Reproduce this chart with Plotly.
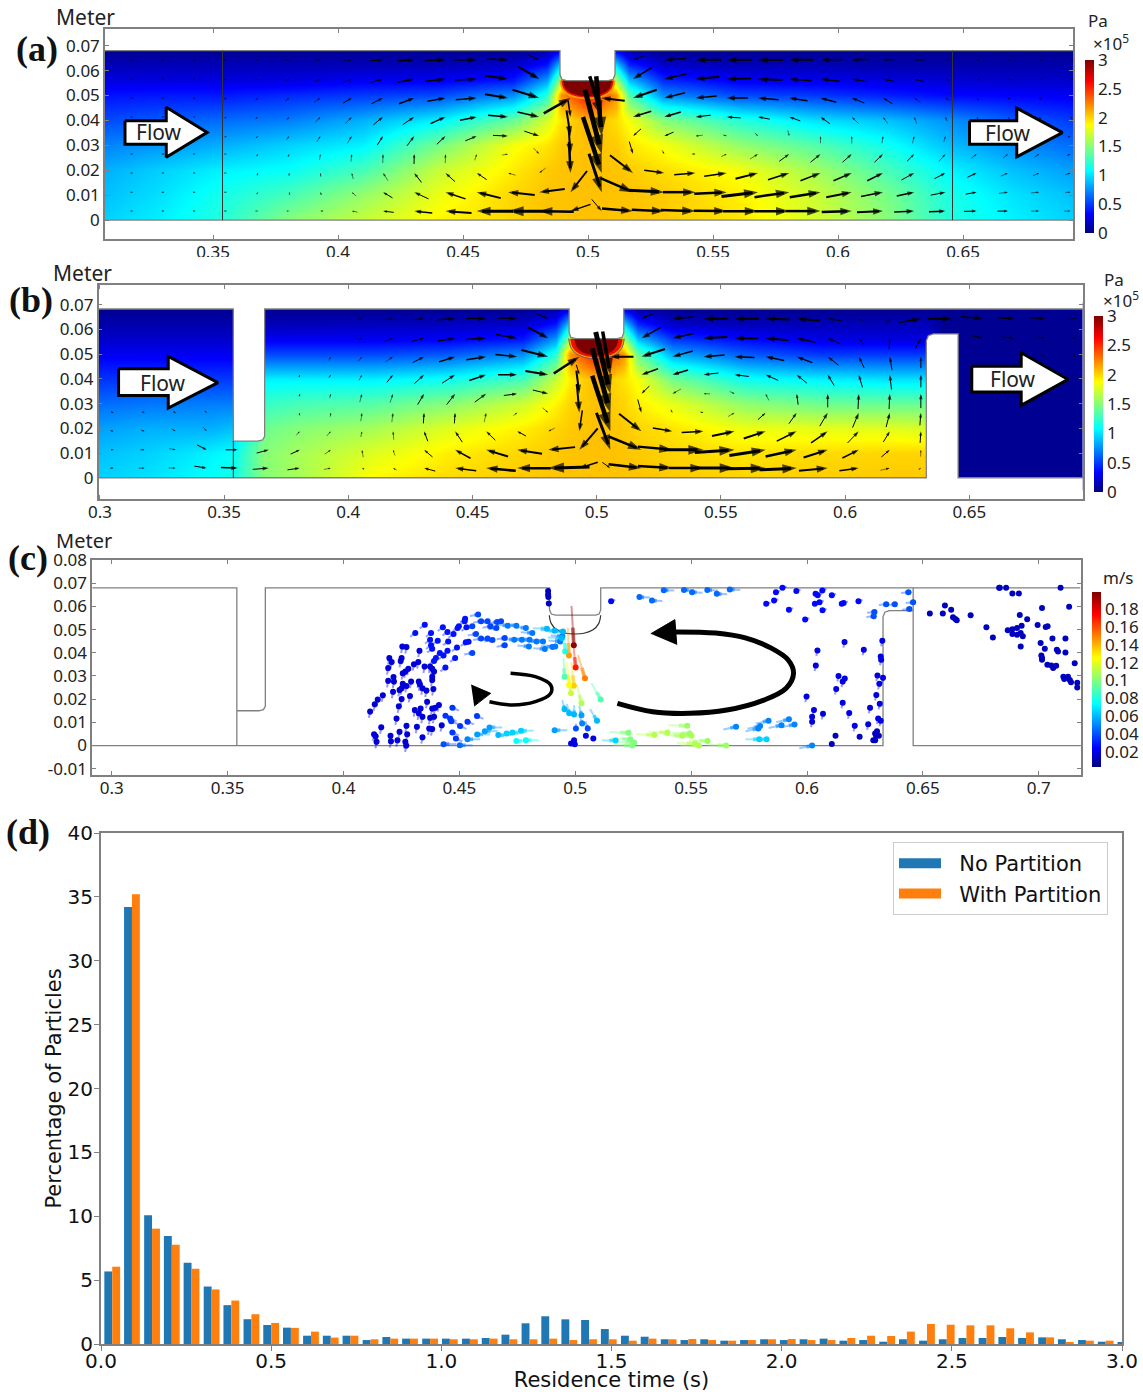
import plotly.graph_objects as go
from plotly.colors import sample_colorscale
import math

W, H = 1143, 1392
GREY = "#808080"
COMSOL = "Noto Sans"
MPL = "DejaVu Sans"
RAINBOW = [[0,"rgb(0,0,127)"],[.11,"rgb(0,0,255)"],[.36,"rgb(0,255,255)"],[.625,"rgb(255,255,0)"],[.875,"rgb(255,0,0)"],[1,"rgb(127,0,0)"]]

# ---------- panel (a): pressure field, 1e5 Pa ----------
A_P_X = [.3068,.33,.354,.38,.41,.44,.47,.4835,.489,.5,.511,.5165,.53,.56,.59,.62,.646,.67,.694]
A_P_Y = [0,.01,.02,.03,.04,.05,.056,.062,.068]
A_P_Z = [
 [.95,1.05,1.2,1.5,1.7,1.9,2.0,2.05,2.05,2.06,2.05,2.05,2.03,1.95,1.75,1.5,1.17,1.05,.95],
 [.9,1.0,1.15,1.3,1.55,1.82,2.0,2.05,2.05,2.06,2.05,2.05,2.03,1.92,1.72,1.45,1.15,1.0,.9],
 [.85,.95,1.05,1.1,1.3,1.7,1.93,2.03,2.05,2.06,2.05,2.03,1.97,1.85,1.6,1.3,1.05,.9,.8],
 [.72,.78,.85,.95,1.05,1.45,1.85,1.95,2.03,2.06,2.03,1.95,1.85,1.55,1.35,1.12,.88,.75,.65],
 [.55,.6,.65,.7,.85,1.05,1.4,1.75,1.95,2.1,1.97,1.85,1.5,1.2,1.0,.9,.75,.6,.5],
 [.38,.4,.4,.45,.5,.55,.75,1.2,2.2,2.6,2.2,1.35,.75,.55,.5,.42,.35,.33,.3],
 [.25,.25,.25,.25,.3,.3,.4,.8,1.6,2.5,1.6,.9,.45,.3,.28,.25,.22,.2,.2],
 [.15,.15,.15,.15,.15,.15,.2,.4,1.0,1.2,1.0,.45,.2,.15,.15,.12,.12,.12,.12],
 [.05,.05,.05,.05,.05,.05,.05,.1,.3,.3,.3,.1,.05,.05,.05,.05,.05,.05,.05],
]

# arrow tips on a regular mesh; U, V = arrow extent in millimetres
A_TIP_X = [.318,.3305,.343,.3555,.368,.3805,.393,.4055,.418,.4305,.443,.4555,.468,.4805,.493,.5055,
           .518,.5305,.543,.5555,.568,.5805,.593,.6055,.618,.6305,.643,.6555,.668,.6805,.693]
A_TIP_Y = [.0643,.0566,.049,.0414,.0337,.0265,.0189,.0112,.0036]
A_U = [
 [.3,.3,.4,.5,.8,1.5,2.1,3.5,5.4,6.6,8.1,9,8.4,4.6,0,0,-4.7,-8.8,-10.2,-10,-10,-9.5,-8.6,-7,-5.1,-4,-2,-1.2,-.8,-.6,-.5],
 [.3,.4,.5,.7,1,1.5,2.6,3.5,5,6.6,8.1,8.7,9.2,8.4,0,0,-7.6,-8.8,-9.5,-9.7,-9.7,-8.9,-7.8,-6.4,-5.3,-4,-1.8,-1.8,-1,-.6,-.5],
 [.3,.3,.5,.6,1,1.7,2.6,3.4,4.6,6.1,7.2,8.4,9.2,10.7,10.7,-9.2,-9.5,-8.3,-8.5,-8.5,-8.2,-7.3,-6.3,-5,-3.8,-2.5,-1.8,-1,-.5,-.5,-.5],
 [.3,.3,.3,.5,1,1.2,2,2.6,3.8,4.6,6,6.7,8,8.7,1,4.8,-7.3,-6.6,-6.1,-5.6,-4.8,-4.4,-3.7,-2.8,-1.9,-1,-.6,-.3,-.3,-.3,-.3],
 [.2,.3,.3,.4,.8,1.2,1.5,1.8,2.3,2.9,3.5,4.6,6,6,1.6,2.2,-3.2,-3.7,-2.9,1.5,1.3,.6,0,0,.4,.7,.7,1,1,1,1],
 [.4,.4,.3,.3,.4,.5,.4,.3,.1,.1,.1,.8,2.3,2.3,.8,6.7,1.5,.9,1.5,2.2,3.2,4,4,3.7,3.4,2.9,2.6,2.2,1.9,1.9,1.5],
 [.5,.5,.5,.3,.2,.1,-.1,-.6,-2,-2.9,-3.8,-4,-3,-2.6,.6,7.5,9.2,8,8.5,9,9,8.5,8,7.3,6.3,5.1,4.4,3.7,2.9,2.5,2],
 [.6,.7,.7,.5,.2,-.1,-.3,-1.8,-3.8,-5.7,-8,-9.6,-10.7,-10.2,-6.6,5.1,13,14.3,13,13,14.6,13.9,12.3,10.2,8.8,7,5.9,4.4,3.6,3.2,2],
 [.6,.7,.8,.6,.3,.2,-.8,-2.3,-4.3,-7.2,-10.4,-14.5,-16.4,-13.8,-8,4,12.4,13,13.9,13.2,13.9,13.9,13.9,12,10.4,8,6.6,5.1,4.2,3.2,2.5],
]
A_V = [
 [0,0,0,0,0,.1,.1,.3,.4,.3,.2,0,-.4,-2,0,0,-1.8,-.6,-.1,0,0,-.1,-.2,-.2,-.1,0,0,0,0,0,0],
 [0,0,0,.1,.2,.5,.9,1.3,1.3,1.3,.9,.4,-1.3,-5,0,0,-4.7,-2,-.9,-.3,.4,.7,.9,1.1,1.1,1.1,.7,.4,.2,.1,0],
 [0,0,.1,.3,.9,1.3,1.7,2,2.3,2.3,1.3,.7,-1.5,-3.3,6.2,1.1,-3.3,-2.1,-.8,0,.7,1.1,1.7,2,2.3,1.7,1.1,1,.3,.3,.3],
 [0,0,0,.3,.8,1.3,2,2.7,3.1,3.1,2.7,1.3,-.7,-2,-6.7,-16.3,-2.3,-2,-.7,.4,.9,1.6,2.7,2.7,2.7,2.7,1.7,.5,.4,.4,.3],
 [0,0,0,.2,.8,1.6,2.3,2.9,3.6,3.9,3.3,1.9,-.3,-2,-10.3,-24,-2.9,-1.6,-.4,-.5,-1.3,-2.3,2.9,2.9,2.9,2.9,2.3,1,1,.8,.5],
 [0,0,0,0,.6,1.2,2.3,3,3.6,4,3.6,2.5,.4,-2.4,-11,-25.8,-5,-1.5,0,1,2,2.9,3.3,3.3,3.3,2.9,2.9,1.7,1.6,1.2,.7],
 [0,0,0,0,.5,.9,1.5,2.4,3.1,3.8,3.5,2.7,.9,-2,-12.5,-22.5,-7.1,-1.1,.7,1.3,2.3,2.7,3.1,3.1,3.1,2.8,2.3,1.7,1.3,1.1,.7],
 [0,0,0,0,.3,.7,1,1.6,2.3,2.7,2.7,2.4,1.1,-1.3,-8.5,-15.4,-5.6,-.8,0,.6,1.7,2,2,2,1.7,1.5,1.2,.8,.5,.3,.1],
 [0,0,0,0,0,0,0,.4,.5,.8,.8,.1,.1,.3,-2.7,-4.7,-1,-.5,-.4,-.1,.1,.1,0,.4,.5,.4,.3,.1,0,0,0],
]

# ---------- panel (b) ----------
B_P_X = [.2995,.32,.345,.354,.366,.38,.41,.44,.47,.4835,.489,.5,.511,.5165,.53,.56,.59,.62,.633,.64,.6955]
B_P_Y = [0,.01,.02,.03,.04,.05,.056,.062,.068]
B_P_Z = [
 [.95,1.0,1.1,1.15,1.5,1.6,1.88,1.98,2.03,2.05,2.05,2.05,2.05,2.05,2.03,2.0,2.02,2.03,2.03,.05,.05],
 [.9,.95,1.05,1.1,1.5,1.6,1.78,1.92,2.0,2.03,2.05,2.06,2.05,2.03,2.0,1.95,1.98,2.0,2.0,.05,.05],
 [.8,.85,.85,.9,1.42,1.5,1.6,1.78,1.92,2.0,2.03,2.06,2.03,2.0,1.95,1.82,1.8,1.78,1.75,.05,.05],
 [.65,.68,.7,.7,1.25,1.3,1.35,1.5,1.72,1.9,2.0,2.06,2.0,1.92,1.8,1.52,1.42,1.4,1.4,.05,.05],
 [.48,.5,.5,.5,1.05,1.05,1.05,1.12,1.3,1.7,1.92,2.1,1.95,1.85,1.45,1.12,1.05,1.0,1.0,.05,.05],
 [.3,.3,.3,.3,.55,.55,.55,.6,.75,1.2,2.2,2.6,2.2,1.4,.85,.6,.5,.5,.5,.05,.05],
 [.2,.2,.2,.2,.3,.3,.3,.32,.4,.8,1.6,2.5,1.6,.9,.5,.35,.27,.25,.25,.05,.05],
 [.12,.12,.12,.12,.15,.15,.17,.17,.2,.4,1.0,1.2,1.0,.45,.2,.15,.15,.15,.15,.05,.05],
 [.05,.05,.05,.05,.05,.05,.05,.05,.05,.1,.3,.3,.3,.1,.05,.05,.05,.05,.05,.05,.05],
]
B_TIP_X = [.3055] + A_TIP_X
B_TIP_Y = [.0644,.0565,.049,.0417,.034,.0263,.0188,.0113,.0039]
B_U = [
 [0,0,0,0,0,0,0,0,1.5,3.4,4.9,6.9,8,7.7,4.9,0,0,-4.7,-8.5,-10,-9.8,-9.5,-9.2,-5.6,-1.9,1.7,8.8,9.8,8.8,6.6,5.9,2.6],
 [0,0,0,0,0,0,0,0,1.7,3.4,4.9,6.9,8.3,8.5,8.2,0,0,-7.8,-8.5,-9.5,-9.5,-9.2,-7.5,-5.1,-2.3,.3,2.2,0,4.4,5.1,3.7,2],
 [0,0,0,0,0,0,0,.9,1.5,3.1,4.6,6.5,8,8.8,10.8,10.3,-9.3,-9.5,-8.2,-8.5,-8,-7.5,-6.3,-4.4,-2.2,-.9,0,0,0,0,2.2,1],
 [0,0,0,0,0,0,.2,.9,1.2,2.5,3.9,5.2,6.8,7.7,9.2,1.2,3.1,-6.7,-6.3,-6,-5.7,-5.1,-4.1,-2.6,-1.5,-.7,0,0,0,0,0,0],
 [0,0,0,0,0,0,.2,.5,.9,1.2,2.6,3.4,4.6,5.4,6.2,1.2,5.9,-3.2,-3.4,-2.6,1.9,-1.3,-.6,0,.3,.3,0,0,0,0,0,0],
 [1,1,.8,.3,0,0,.2,.3,.5,.5,.3,.3,.8,1.5,2.3,1,7.3,1.5,.7,1.3,2.6,3.1,3.1,3.2,2.5,1.5,.4,0,0,0,0,0],
 [1.3,1.5,1.7,1.5,0,0,1.5,1.7,.5,-.3,-1.5,-2.9,-3.7,-3.5,-2.6,-1.2,7.3,9,7.9,8.8,9.1,8.8,8,6.7,4.5,2.6,.3,0,0,0,0,0],
 [1,1.8,2.6,3.9,4.9,4.9,3.7,2.5,-.5,-.8,-3.4,-6.2,-8.8,-10,-10.8,-7.4,5.6,13.2,13.9,16,16,14.6,12.5,9.7,6.6,3.4,.1,0,0,0,0,0],
 [1.5,2.4,2.9,5,6.8,6.5,5,2.8,-.8,-1.5,-4.5,-8.5,-11.9,-13.5,-16.6,-7.4,3.2,13.2,13.9,13.9,15.7,15.7,15,11.6,7.8,3.8,.3,0,0,0,0,0],
]
B_V = [
 [0,0,0,0,0,0,0,0,.1,.3,.4,.4,-.1,-.3,-2,0,0,-2,-.7,0,0,.3,.7,.9,1,1.9,1.6,0,-.8,-.4,-.3,-.2],
 [0,0,0,0,0,0,0,0,.7,1.3,1.3,1.1,.5,-1.5,-4.4,0,0,-4.4,-1.9,-.5,0,.8,1.7,2.3,2.9,4.5,4.3,0,-1,-.5,-.5,-.2],
 [0,0,0,0,0,0,0,1.5,1.9,2.1,2.4,2.1,1.2,-.9,-2.7,6.8,0,-3.1,-2.3,-.7,.3,1.5,2.4,3.5,4.6,5.5,4.6,0,0,0,-1,-.3],
 [0,0,0,0,0,0,.6,1.3,2.3,3.1,3.6,3.4,2.3,0,-1.5,-4,-17.5,-2.4,-1.9,-.7,.7,2.3,3.4,4.4,5.1,6,5.1,0,0,0,0,0],
 [0,0,0,0,0,0,1,1.7,3.4,3.6,4.4,4.4,3.4,.7,-1.5,-9.4,-25,-3.1,-1.9,0,-.9,2.7,4.4,5.5,6.2,6.2,5.8,0,0,0,0,0],
 [-.3,-.4,-.4,-.3,0,0,1,1.6,3.4,3.8,4.3,4.3,3.8,1.1,-2,-11.7,-26,-5.4,-1.3,-.3,1.5,2.8,4.4,5.4,6,5.8,5.1,0,0,0,0,0],
 [-.3,-.5,-1,-1.7,0,0,1.6,1.9,2.3,3.4,4,4.4,3.6,1.9,-1.3,-8.5,-22.5,-7.1,-1.3,.5,1.9,2.9,4,4.7,4.7,4.3,4.7,0,0,0,0,0],
 [0,0,-.5,-2,0,1.3,1.7,1.7,3,2.3,2.9,3.4,2.7,1.6,-1.1,-8.7,-15,-5.4,-1.3,0,1.1,2.3,2.7,3.1,3.3,2.9,2.7,0,0,0,0,0],
 [0,0,-.1,-.8,-.3,.5,.7,.5,.4,.8,1.2,1.1,1.1,.1,-.5,-2.4,-2.3,-1.6,-.9,0,0,.3,.7,1.1,1.1,.9,.2,0,0,0,0,0],
]

# ---------- panel (c): particles; each group = x, y, speed (m/s), trail (dx, dy in m) ----------
C_LEFT_X = [.4115,.4135,.4148,.417,.4132,.4139,.4143,.4163,.4203,.4205,.4233,.4267,.4271,.4242,.4275,.4229,.4272,.4341,.4317,.437,.4383,
            .4239,.4251,.4242,.4256,.4214,.4218,.4193,.4216,.4193,.4198,.4208,.4251,.4247,.4254,.4272,.4256,.4267,.428,.4304,.4323,.4328,
            .4292,.4325,.433,.4272,.4287,.4251,.4341,.4358,.4388,.4383,.4383,.4361,.4333,.4308,.4325,.4341,.4374,.4391,.4383,.4396,.4412,
            .435,.4374,.4383,.4391,.4424]
C_LEFT_Y = [.0147,.0178,.0198,.0217,.0049,.004,.0016,.0079,.0042,.0019,.0023,.0016,0,.0059,.0049,.0117,.0085,.0036,.0081,.0074,.0071,
            .0169,.0201,.024,.0266,.0232,.0276,.0279,.0296,.0334,.0377,.036,.0377,.0365,.0427,.0425,.0312,.0319,.0331,.0351,.036,.0409,
            .0276,.0276,.0264,.0257,.0214,.0247,.0247,.0237,.0244,.0283,.0297,.0189,.016,.0153,.0139,.0124,.012,.0124,.016,.0163,.0175,
            .0341,.0341,.0331,.0319,.0088]
C_LEFT_SPEED = .018
C_LEFT_TRAIL = (-.0005, -.0028)

C_ARC_X = [.431,.4351,.4378,.4374,.4378,.4383,.4407,.4452,.4449,.4475,.4493,.4429,.4523,.4525,.4498,.4531,.4528,.454,.449,.4449,.4416,.4432,.4399,.4391,.4482,.444]
C_ARC_Y = [.0485,.0521,.0485,.0456,.0432,.0417,.0452,.0449,.049,.0481,.0507,.051,.0536,.0547,.0514,.051,.0445,.0448,.0423,.0409,.0399,.0388,.0377,.0365,.0377,.0336]
C_ARC_SPEED = .028
C_ARC_TRAIL = (-.0022, -.0016)

C_TOP_X = [.4581,.4556,.4594,.4622,.4663,.468,.4635,.466,.4572,.4594,.4622,.4643,.4556,.4696,.4696]
C_TOP_Y = [.0565,.0514,.0536,.0536,.0533,.0536,.0514,.0507,.0481,.0461,.0461,.0455,.0399,.0464,.0432]
C_TOP_SPEED = .038
C_TOP_TRAIL = (-.0035, -.0006)

C_TOP2_X = [.4709,.4746,.4787,.4815,.4737,.477,.4803,.48,.4833,.4861,.4869,.4902,.4914,.4935,.4944]
C_TOP2_Y = [.0517,.0517,.0507,.0485,.0456,.0456,.0456,.0427,.0449,.0449,.0416,.0425,.0427,.0449,.0471]
C_TOP2_SPEED = .048
C_TOP2_TRAIL = (-.005, .0004)

C_TIP_X = [.4878,.4911,.4942,.4947]
C_TIP_Y = [.0504,.0495,.0464,.0492]
C_TIP_SPEED = .06
C_TIP_TRAIL = (-.006, .0002)

C_NOTCH_X = [.4883,.4883,.4884,.4886]
C_NOTCH_Y = [.0666,.0651,.064,.0612]
C_NOTCH_SPEED = .014

C_LBOT_X = [.447,.444,.446,.4465,.4503,.4535,.4576,.447,.4485]
C_LBOT_Y = [.0163,.0129,.0117,.0105,.0084,.0103,.0127,.0056,.003]
C_LBOT_SPEED = .035
C_LBOT_TRAIL = (.0028, -.0012)

C_LB2_X = [.4432,.4502,.4535,.4577,.461,.463,.4668,.4704,.4729,.4766,.4787,.4746,.4911]
C_LB2_Y = [.0006,.0001,.0027,.0048,.0062,.0078,.0045,.0052,.0056,.0064,.0023,.002,.0066]
C_LB2_SPEED = [.04,.045,.05,.055,.055,.055,.06,.065,.065,.065,.075,.075,.055]
C_LB2_TRAIL = (.0055, 0)

C_MID_X = [.4994,.5002,.5042,.4973,.4994,.4974,.4957,.4954,.4982,.5027,.511,.5094,.4954,.4974,.4995,.5027,.503,.5054,.5003,.5046,.5078,.4995,.4982,.4998]
C_MID_Y = [.0432,.0336,.029,.0388,.0258,.0261,.0406,.0297,.0225,.0182,.0199,.0107,.0156,.0139,.0134,.0131,.0095,.0074,.0074,.0042,.003,.0023,.0009,.0006]
C_MID_SPEED = [.195,.17,.15,.145,.135,.125,.08,.09,.115,.11,.09,.06,.06,.06,.06,.055,.05,.04,.04,.02,.02,.02,.02,.02]
C_MID_DX = [-.001,-.001,-.003,-.0005,-.001,-.001,-.0005,-.0005,-.001,-.002,-.004,-.003,-.001,-.001,0,-.001,-.001,-.001,0,0,0,0,0,0]
C_MID_DY = [.017,.01,.01,.012,.01,.01,.008,.008,.008,.008,.007,.005,.004,.004,.004,.004,.003,.003,.002,.001,.001,.001,.001,.001]

C_RSIDE_X = [.6162,.6045,.6038,.6245,.6325,.6318,.632,.6304,.6328,.6312,.6299,.6314,.6272,.6307,.6318,.6264,.6136,.6163,.6154,.6126,.6154,.6182,.6206,.6069,.603,.6022,.6022,.5998]
C_RSIDE_Y = [.0446,.041,.0345,.0413,.0452,.0384,.037,.0302,.0292,.0266,.0218,.018,.0163,.0117,.0107,.0092,.03,.0289,.0276,.0244,.0185,.014,.0085,.0137,.0153,.0124,.0103,.0211]
C_RSIDE_SPEED = .02
C_RSIDE_TRAIL = (-.0005, -.0024)

C_DARK_X = [.6227,.6123,.6107,.6302,.6294,.631,.6298,.6286,.6294,.653,.6586,.6595,.6622,.663,.664,.6646,.6706,.6774,.6802,.6829,.6832,.6859,.6886,.6914,.7094,.7131,.7014,.6918,.695,.6926,.6906,.6886,.6866,.6886,.6906,.6922,.6931,.6922,.6995,.703,.7038,.7008,.7026,.7059,.7115,.7078,.7083,.7115,.7011,.7014,.7014,.7037,.7054,.7075,.7062,.7155,.7106,.711,.7126,.7134,.7139,.7166,.7166]
C_DARK_Y = [.0038,.0042,.0007,.0062,.0052,.0042,.0042,.0023,.0023,.0569,.0569,.0604,.0585,.0553,.0546,.054,.0562,.051,.0466,.068,.068,.068,.0656,.0656,.068,.0598,.0593,.0563,.0544,.0517,.0507,.0501,.0497,.0481,.0478,.0485,.0471,.0427,.052,.0511,.0514,.0442,.0417,.0461,.0462,.0413,.0406,.0401,.0388,.0377,.037,.0348,.0345,.0344,.0334,.0355,.0297,.0287,.0297,.0283,.0273,.0271,.025]
C_DARK_SPEED = .014

C_RTOP_X = [.5382,.5469,.5504,.557,.5611,.5667,.5277,.5331]
C_RTOP_Y = [.067,.0671,.0661,.0671,.0654,.0673,.064,.0625]
C_RTOP_SPEED = .045
C_RTOP_TRAIL = (.0045, -.0002)

C_RTOP2_X = [.5155,.5866,.5894,.5954,.5858,.5824,.5922,.5992,.6037,.6046,.6066,.6107,.6054,.6034,.6067,.615,.6158,.6222]
C_RTOP2_Y = [.0622,.0661,.068,.0666,.0625,.0611,.0586,.0543,.0654,.0648,.0669,.0648,.0618,.0611,.0583,.0611,.0615,.0622]
C_RTOP2_SPEED = .026
C_RTOP2_TRAIL = (.0018, .0006)

C_BAFFLE_X = [.6342,.6379,.6438,.6458,.6442,.6291,.6288]
C_BAFFLE_Y = [.0609,.0609,.0661,.0618,.0589,.0576,.0557]
C_BAFFLE_SPEED = .04
C_BAFFLE_TRAIL = (-.0032, -.0003)

C_RBOT_X = [.5834,.5922,.5946,.589,.5798,.579,.5694,.6022]
C_RBOT_Y = [.0107,.0113,.0091,.0088,.0084,.0074,.0081,0]
C_RBOT_SPEED = .05
C_RBOT_TRAIL = (-.0055, -.0012)

C_GREEN_X = [.5483,.5398,.5342,.5494,.5462,.5502,.5571,.5518,.5534,.5651,.523,.5238,.5254,.5246]
C_GREEN_Y = [.0085,.0056,.0046,.0052,.0042,.0042,.002,.0009,0,0,.0055,.0027,.0013,0]
C_GREEN_SPEED = [.105,.11,.11,.105,.108,.108,.105,.11,.11,.105,.1,.1,.1,.1]
C_GREEN_TRAIL = (-.008, .0003)

C_CYAN_X = [.5174,.5794,.5826]
C_CYAN_Y = [.0022,.0027,.0027]
C_CYAN_SPEED = .065
C_CYAN_TRAIL = (-.006, 0)

# ---------- panel (d): residence time histogram ----------
D_BINS = [.033,.091,.150,.208,.266,.325,.383,.442,.500,.558,.617,.675,.733,.792,.850,.908,.967,1.025,1.084,1.142,
          1.200,1.259,1.317,1.376,1.434,1.492,1.551,1.609,1.668,1.726,1.784,1.843,1.901,1.960,2.018,2.076,2.135,2.193,
          2.251,2.310,2.368,2.427,2.485,2.543,2.602,2.660,2.718,2.777,2.835,2.894,2.952,3.010]
D_NO_PARTITION = [5.68,34.2,10.08,8.45,6.36,4.5,3.04,1.94,1.49,1.28,.65,.65,.65,.31,.55,.42,.42,.42,.42,.47,
                  .73,1.62,2.17,1.93,1.88,1.17,.65,.57,.37,.31,.37,.26,.31,.37,.31,.37,.42,.26,.31,.18,.37,.26,.37,.47,.47,.55,.47,.52,.37,.31,.18,.1]
D_WITH_PARTITION = [6.05,35.2,9.03,7.77,5.89,4.27,3.4,2.33,1.65,1.26,.97,.5,.65,.37,.42,.42,.42,.37,.37,.42,
                    .37,.37,.42,.31,.37,.37,.26,.42,.37,.39,.31,.26,.31,.37,.39,.31,.31,.47,.65,.63,.97,1.57,1.51,1.46,1.46,1.23,.91,.52,.16,.26,.26,0]

fig = go.Figure()

def paper_x(px): return px / W
def paper_y(py): return 1 - py / H

def axis(dom_x, dom_y, rng_x, rng_y, tx, ty, name):
    common = dict(showgrid=False, zeroline=False, showline=True, linecolor=GREY, linewidth=1.5, mirror="allticks",
                  ticks="inside", ticklen=4, tickcolor=GREY, tickfont=dict(family=COMSOL, size=17, color="#222"), automargin=False)
    xa = dict(domain=[paper_x(dom_x[0]), paper_x(dom_x[1])], range=rng_x, tickvals=tx, ticktext=[f"{v:g}" for v in tx],
              anchor="y" + name, ticklabelstandoff=-3, **common)
    ya = dict(domain=[paper_y(dom_y[1]), paper_y(dom_y[0])], range=rng_y, tickvals=ty, ticktext=[f"{v:g}" for v in ty],
              anchor="x" + name, **common)
    fig.update_layout({"xaxis" + name: xa, "yaxis" + name: ya})

def poly(x, y, ax, fill="white", line=None, width=0, shape="linear", close=True):
    fig.add_trace(go.Scatter(x=x, y=y, xaxis="x" + ax, yaxis="y" + ax, mode="lines", hoverinfo="skip", showlegend=False,
                             fill="toself" if close else None, fillcolor=fill if close else None,
                             line=dict(color=line or "rgba(0,0,0,0)", width=width, shape=shape)))

LOBE_FX = [-1,-.92,-.7,-.35,0,.35,.7,.92,1]
LOBE_FY = [0,.45,.78,.96,1,.96,.78,.45,0]
def lobe(cx, hx, top, bot, ax, fill, line=None, width=0):
    poly([cx + f * hx for f in LOBE_FX], [top - f * (top - bot) for f in LOBE_FY], ax, fill, line, width, "spline")

def arrows(tx, ty, U, V, ax, sx, sy):
    groups, hx, hy, hs = {}, [], [], []
    for j, y in enumerate(ty):
        for i, x in enumerate(tx):
            u, v = U[j][i], V[j][i]
            if u == 0 and v == 0:
                continue
            L = math.hypot(u * sx, v * sy)
            w = max(.5, round(min(L / 13, 5) * 2) / 2)
            x0, y0 = x - u / 1000, y - v / 1000
            g = groups.setdefault(w, [[], []])
            g[0].extend([x0, x0 + .85 * u / 1000, None])
            g[1].extend([y0, y0 + .85 * v / 1000, None])
            hx += [x0, x, None]; hy += [y0, y, None]; hs += [0, min(max(L * .4, 2.5), 20), 0]
    for w, (gx, gy) in sorted(groups.items()):
        fig.add_trace(go.Scatter(x=gx, y=gy, xaxis="x" + ax, yaxis="y" + ax, mode="lines", hoverinfo="skip", showlegend=False,
                                 line=dict(color="black", width=w)))
    fig.add_trace(go.Scatter(x=hx, y=hy, xaxis="x" + ax, yaxis="y" + ax, mode="markers", hoverinfo="skip", showlegend=False,
                             marker=dict(symbol="arrow", size=hs, angleref="previous", color="black", line=dict(width=0))))

def flow(xs, ys, tx, ty, ax):
    poly(xs, ys, ax, "white", "black", 3)
    fig.add_annotation(x=tx, y=ty, xref="x" + ax, yref="y" + ax, text="Flow", showarrow=False, font=dict(family=COMSOL, size=21, color="#222"))

def cbar(top, bottom, left, width, vals):
    return dict(x=paper_x(left), xanchor="left", y=paper_y(top), yanchor="top", len=bottom - top, lenmode="pixels",
                thickness=width, thicknessmode="pixels", xpad=0, ypad=0, outlinewidth=0, ticks="",
                tickvals=vals, ticktext=[f"{v:g}" for v in vals], tickfont=dict(family=COMSOL, size=17, color="#222"))

NOTCH_FX = [-.011,-.011,-.0103,-.0083,.0083,.0103,.011,.011]
P_TICKS = [0,.5,1,1.5,2,2.5,3]
Y_TICKS = [0,.01,.02,.03,.04,.05,.06,.07]

# ---------- (a) ----------
A_RX, A_RY = [.3068,.694], [-.0076,.0767]
axis([105,1073],[29,239],A_RX,A_RY,[.35,.4,.45,.5,.55,.6,.65],Y_TICKS,"")
fig.add_trace(go.Heatmap(x=A_P_X,y=A_P_Y,z=A_P_Z,zmin=0,zmax=3,colorscale=RAINBOW,zsmooth="best",hoverinfo="skip",
                         colorbar=cbar(60,232.7,1084.6,8.5,P_TICKS)))
lobe(.4998,.0112,.056,.0485,"","#ff9a00"); lobe(.4998,.0105,.056,.0492,"","#e81000"); lobe(.4998,.0098,.056,.0498,"","#7f0000")
NA = .4998
na_x = [NA + f for f in NOTCH_FX]; na_y = [.068,.0585,.0565,.056,.056,.0565,.0585,.068]
poly(na_x, [.0695]+na_y[1:-1]+[.0695], "")
poly([A_RX[0],A_RX[1],A_RX[1],A_RX[0]],[.068,.068,A_RY[1],A_RY[1]],"")
poly([A_RX[0],A_RX[1],A_RX[1],A_RX[0]],[0,0,A_RY[0],A_RY[0]],"")
poly([A_RX[0]]+na_x+[A_RX[1]],[.068]+na_y+[.068],"",line=GREY,width=1.3,close=False)
poly([A_RX[0],A_RX[1]],[0,0],"",line=GREY,width=1.3,close=False)
poly([.3538,.3538,None,.6458,.6458],[0,.068,None,0,.068],"",line="#333",width=1,close=False)
arrows(A_TIP_X,A_TIP_Y,A_U,A_V,"",2.5,2.49)
flow([.3148,.3313,.3313,.3477,.3313,.3313,.3148,.3148],[.0399,.0399,.0453,.0352,.0252,.0304,.0304,.0399],.3285,.0352,"")
flow([.6526,.6715,.6715,.6898,.6715,.6715,.6526,.6526],[.0399,.0399,.0449,.0351,.0254,.0304,.0304,.0399],.668,.0351,"")

# ---------- (b) ----------
B_RX, B_RY = [.2995,.6957], [-.0086,.0779]
axis([98.7,1082.8],[285.3,499],B_RX,B_RY,[.3,.35,.4,.45,.5,.55,.6,.65],Y_TICKS,"2")
fig.add_trace(go.Heatmap(x=B_P_X,y=B_P_Y,z=B_P_Z,zmin=0,zmax=3,colorscale=RAINBOW,zsmooth="best",hoverinfo="skip",xaxis="x2",yaxis="y2",
                         colorbar=cbar(316,492,1094,9,P_TICKS)))
lobe(.4999,.0112,.0563,.0482,"2","#ff9a00","#666",1); lobe(.4999,.0105,.0563,.0488,"2","#e81000"); lobe(.4999,.0088,.0563,.0496,"2","#7f0000")
nb_x = [.4999 + f for f in NOTCH_FX]; nb_y = [.0683,.0588,.0568,.0563,.0563,.0568,.0588,.0683]
poly(nb_x, [.0695]+nb_y[1:-1]+[.0695], "2")
bl_x = [.3537,.3537,.3635,.3655,.3663,.3663]; bl_y = [.0683,.0148,.0148,.0153,.0168,.0683]
poly(bl_x, [.0695]+bl_y[1:-1]+[.0695], "2")
br_x = [.6327,.6327,.6335,.6355,.6455,.6455]; br_y = [-.0086,.0555,.0575,.0582,.0582,-.0086]
poly(br_x, br_y, "2")
poly([B_RX[0],B_RX[1],B_RX[1],B_RX[0]],[.0683,.0683,B_RY[1],B_RY[1]],"2")
poly([B_RX[0],B_RX[1],B_RX[1],B_RX[0]],[0,0,B_RY[0],B_RY[0]],"2")
poly([B_RX[0]]+bl_x+nb_x+[B_RX[1]],[.0683]+bl_y+nb_y+[.0683],"2",line=GREY,width=1.3,close=False)
poly([B_RX[0],.6327,.6327,.6335,.6355,.6455,.6455,B_RX[1]],[0,0,.0555,.0575,.0582,.0582,0,0],"2",line=GREY,width=1.3,close=False)
poly([.3537,.3537],[0,.0148],"2",line="#333",width=1,close=False)
arrows(B_TIP_X,B_TIP_Y,B_U,B_V,"2",2.49,2.47)
flow([.3075,.3275,.3275,.3475,.3275,.3275,.3075,.3075],[.0441,.0441,.0491,.0385,.0282,.0333,.0333,.0441],.3255,.0385,"2")
flow([.651,.6709,.6709,.6898,.6709,.6709,.651,.651],[.0451,.0451,.0506,.0398,.0293,.0347,.0347,.0451],.6675,.0398,"2")

# ---------- (c) ----------
C_RX, C_RY = [.2916,.718], [-.0127,.08]
axis([92.2,1080.5],[560,775],C_RX,C_RY,[.3,.35,.4,.45,.5,.55,.6,.65,.7],[-.01,0,.01,.02,.03,.04,.05,.06,.07,.08],"3")
poly([C_RX[0],.354,.354],[.068,.068,0],"3",line=GREY,width=1.3,close=False)
poly([C_RX[0],.6328,.6328,.6336,.6355,.6458,.6458,C_RX[1]],[0,0,.0555,.0575,.0582,.0582,0,0],"3",line=GREY,width=1.3,close=False)
poly([.354,.3635,.3655,.3663,.3663,.4889,.4889,.4897,.4915,.5088,.5103,.511,.511,C_RX[1]],
     [.015,.015,.0155,.017,.068,.068,.0585,.0567,.0562,.0562,.0567,.0585,.068,.068],"3",line=GREY,width=1.3,close=False)
poly([.6458,.6458],[.0582,.068],"3",line=GREY,width=1.3,close=False)
poly([.4999 + f * .0111 for f in LOBE_FX],[.0562 - f * .0081 for f in LOBE_FY],"3",line="#333",width=1.2,shape="spline",close=False)

P_X, P_Y, P_V, P_DX, P_DY = [], [], [], [], []
def add_particles(xs, ys, speed, dx, dy):
    for i, (x, y) in enumerate(zip(xs, ys)):
        P_X.append(x); P_Y.append(y)
        P_V.append(speed[i] if isinstance(speed, list) else speed)
        P_DX.append(dx[i] if isinstance(dx, list) else dx)
        P_DY.append(dy[i] if isinstance(dy, list) else dy)
add_particles(C_LEFT_X,C_LEFT_Y,C_LEFT_SPEED,*C_LEFT_TRAIL)
add_particles(C_ARC_X,C_ARC_Y,C_ARC_SPEED,*C_ARC_TRAIL)
add_particles(C_TOP_X,C_TOP_Y,C_TOP_SPEED,*C_TOP_TRAIL)
add_particles(C_TOP2_X,C_TOP2_Y,C_TOP2_SPEED,*C_TOP2_TRAIL)
add_particles(C_TIP_X,C_TIP_Y,C_TIP_SPEED,*C_TIP_TRAIL)
add_particles(C_NOTCH_X,C_NOTCH_Y,C_NOTCH_SPEED,0,0)
add_particles(C_LBOT_X,C_LBOT_Y,C_LBOT_SPEED,*C_LBOT_TRAIL)
add_particles(C_LB2_X,C_LB2_Y,C_LB2_SPEED,*C_LB2_TRAIL)
add_particles(C_MID_X,C_MID_Y,C_MID_SPEED,C_MID_DX,C_MID_DY)
add_particles(C_RSIDE_X,C_RSIDE_Y,C_RSIDE_SPEED,*C_RSIDE_TRAIL)
add_particles(C_DARK_X,C_DARK_Y,C_DARK_SPEED,0,0)
add_particles(C_RTOP_X,C_RTOP_Y,C_RTOP_SPEED,*C_RTOP_TRAIL)
add_particles(C_RTOP2_X,C_RTOP2_Y,C_RTOP2_SPEED,*C_RTOP2_TRAIL)
add_particles(C_BAFFLE_X,C_BAFFLE_Y,C_BAFFLE_SPEED,*C_BAFFLE_TRAIL)
add_particles(C_RBOT_X,C_RBOT_Y,C_RBOT_SPEED,*C_RBOT_TRAIL)
add_particles(C_GREEN_X,C_GREEN_Y,C_GREEN_SPEED,*C_GREEN_TRAIL)
add_particles(C_CYAN_X,C_CYAN_Y,C_CYAN_SPEED,*C_CYAN_TRAIL)

CMIN, CMAX = .0032, .199
tails = {}
for x, y, v, dx, dy in zip(P_X, P_Y, P_V, P_DX, P_DY):
    if dx == 0 and dy == 0:
        continue
    t = tails.setdefault(v, [[], [], [], []])
    t[0].extend([x, x + .45 * dx, None]); t[1].extend([y, y + .45 * dy, None])
    t[2].extend([x, x + dx, None]); t[3].extend([y, y + dy, None])
for v, t in tails.items():
    c = sample_colorscale(RAINBOW, (v - CMIN) / (CMAX - CMIN))[0]
    fig.add_trace(go.Scatter(x=t[2],y=t[3],xaxis="x3",yaxis="y3",mode="lines",opacity=.4,hoverinfo="skip",showlegend=False,line=dict(color=c,width=2)))
    fig.add_trace(go.Scatter(x=t[0],y=t[1],xaxis="x3",yaxis="y3",mode="lines",opacity=.55,hoverinfo="skip",showlegend=False,line=dict(color=c,width=3.8)))
fig.add_trace(go.Scatter(x=P_X,y=P_Y,xaxis="x3",yaxis="y3",mode="markers",hoverinfo="skip",showlegend=False,
    marker=dict(size=6,color=P_V,colorscale=RAINBOW,cmin=CMIN,cmax=CMAX,line=dict(width=0),
                colorbar=cbar(592,767,1092,9,[.02,.04,.06,.08,.1,.12,.14,.16,.18]))))
# swirl arrows
poly([.5182,.5334,.5494,.5654,.5814,.591,.5942,.5918,.5846,.5734,.5606,.543],[.0182,.0146,.0139,.0153,.0196,.0247,.0312,.037,.042,.0464,.0485,.049],
     "3",line="black",width=5,shape="spline",close=False)
poly([.5326,.543,.5438],[.0482,.0543,.0435],"3","black","black",1)
poly([.4721,.4828,.4894,.4894,.4828,.4729,.463],[.0312,.0297,.0261,.0225,.0189,.0175,.0189],"3",line="black",width=3.5,shape="spline",close=False)
poly([.4551,.4635,.4564],[.0261,.0225,.017],"3","black","black",1)

# ---------- (d) ----------
fig.update_layout(
    xaxis4=dict(domain=[paper_x(101),paper_x(1122)],range=[0,3],anchor="y4",showgrid=False,zeroline=False,showline=True,linecolor=GREY,linewidth=2,mirror=True,
                ticks="outside",ticklen=5,tickcolor=GREY,tickvals=[0,.5,1,1.5,2,2.5,3],ticktext=["0.0","0.5","1.0","1.5","2.0","2.5","3.0"],
                tickfont=dict(family=MPL,size=20,color="#111"),automargin=False,ticklabelstandoff=-7,
                title=dict(text="Residence time (s)",font=dict(family=MPL,size=21,color="#111"),standoff=4)),
    yaxis4=dict(domain=[paper_y(1344),paper_y(833)],range=[0,40],anchor="x4",showgrid=False,zeroline=False,showline=True,linecolor=GREY,linewidth=2,mirror=True,
                ticks="outside",ticklen=5,tickcolor=GREY,tickvals=[0,5,10,15,20,25,30,35,40],
                tickfont=dict(family=MPL,size=20,color="#111"),automargin=False,ticklabelstandoff=-3,
                title=dict(text="Percentage of Particles",font=dict(family=MPL,size=21,color="#111"),standoff=0)),
)
fig.add_trace(go.Bar(x=D_BINS,y=D_NO_PARTITION,name="No Partition",marker=dict(color="#1f77b4",line=dict(width=0)),xaxis="x4",yaxis="y4",showlegend=False,hoverinfo="skip"))
fig.add_trace(go.Bar(x=D_BINS,y=D_WITH_PARTITION,name="With Partition",marker=dict(color="#ff7f0e",line=dict(width=0)),xaxis="x4",yaxis="y4",showlegend=False,hoverinfo="skip"))
fig.add_trace(go.Scatter(x=[None],y=[None],name="\u00a0\u00a0No Partition",mode="lines",line=dict(color="#1f77b4",width=14),xaxis="x4",yaxis="y4"))
fig.add_trace(go.Scatter(x=[None],y=[None],name="\u00a0\u00a0With Partition",mode="lines",line=dict(color="#ff7f0e",width=14),xaxis="x4",yaxis="y4"))

# ---------- labels ----------
def label(px, py, text, family=COMSOL, size=17, color="#222", anchor="left", bold=False):
    fig.add_annotation(x=paper_x(px),y=paper_y(py),xref="paper",yref="paper",text=f"<b>{text}</b>" if bold else text,showarrow=False,
                       xanchor=anchor,yanchor="middle",font=dict(family=family,size=size,color=color))
for px, py, s in [(54,17,21),(51,273,21),(54,540,20)]:
    label(px,py,"Meter",size=s)
label(1086,20,"Pa"); label(1091,43,"×10<sup>5</sup>")
label(1102,279,"Pa"); label(1101,299,"×10<sup>5</sup>")
label(1101,577,"m/s")
for px, py, t in [(14,49,"(a)"),(7,300,"(b)"),(6,558,"(c)"),(4,832,"(d)")]:
    label(px,py,t,family="Liberation Serif",size=36,color="#111",bold=True)

fig.update_layout(
    width=W,height=H,margin=dict(l=0,r=0,t=0,b=0,pad=0,autoexpand=False),
    paper_bgcolor="white",plot_bgcolor="white",barmode="group",bargap=.2,bargroupgap=0,
    legend=dict(x=paper_x(893),xanchor="left",y=paper_y(842),yanchor="top",bgcolor="white",bordercolor="#ccc",borderwidth=1,
                font=dict(family=MPL,size=21,color="#111"),itemwidth=42,traceorder="normal"),
    showlegend=True,
    shapes=[dict(type="rect",xref="paper",yref="paper",x0=paper_x(190),x1=paper_x(1000),y0=paper_y(262),y1=paper_y(257),
                 fillcolor="white",line=dict(width=0),layer="above")],
)
fig.write_html("out.html",post_script="document.body.style.margin='0';document.body.style.overflow='hidden';",config={"displayModeBar":False})
